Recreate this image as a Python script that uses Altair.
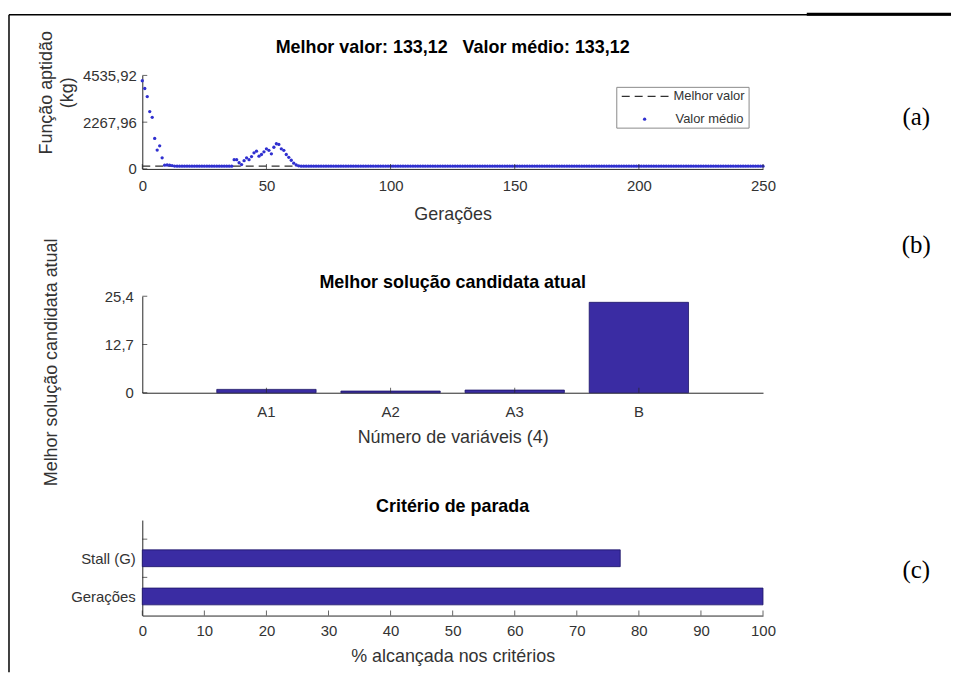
import altair as alt
import pandas as pd

# ---------------- data ----------------
geracoes = list(range(0, 251))
melhor_valor = [133.12] * 251
media_inicio = [4277, 3902, 3511, 2780, 2502, 1478, 912, 1122, 536, 180, 190, 185, 160, 140]  # gerações 0-13
media_pico = [450, 450, 300, 210, 400, 540, 450, 600, 780, 860, 620, 700, 830, 975, 900, 730,
              1050, 1220, 1190, 975, 900, 700, 560, 420, 280, 190, 150]                        # gerações 37-63
inicio_pico = 37
media_estavel = 133.12
ticks_x_a = [0, 50, 100, 150, 200, 250]
ticks_y_a = [0, 2267.96, 4535.92]
titulo_a = "Melhor valor: 133,12\u00a0\u00a0\u00a0Valor médio: 133,12"
legenda = ["Melhor valor", "Valor médio"]

variaveis = ["A1", "A2", "A3", "B"]
solucao = [0.88, 0.44, 0.70, 23.8]
ticks_y_b = [0, 12.7, 25.4]
titulo_b = "Melhor solução candidata atual"

criterios = ["Gerações", "Stall (G)"]
criterio_pos = [1, 2]
alcancado = [100, 77]
ticks_x_c = [0, 10, 20, 30, 40, 50, 60, 70, 80, 90, 100]
ticks_y_c = [1.5, 2.5]
titulo_c = "Critério de parada"

rotulos = ["(a)", "(b)", "(c)"]

valor_medio = []
for g in geracoes:
    if g < len(media_inicio):
        valor_medio.append(media_inicio[g])
    elif inicio_pico <= g < inicio_pico + len(media_pico):
        valor_medio.append(media_pico[g - inicio_pico])
    else:
        valor_medio.append(media_estavel)

# ---------------- style ----------------
FONT = "Liberation Sans"
SERIF = "Liberation Serif"
TXT = "#333333"
AX = "#262626"
BAR = "#3a2ca3"
BAR_EDGE = "#1c1466"
DOT = "#3030d0"
W = 624
H1, H2, H3 = 94, 97, 96
one = pd.DataFrame({"k": [0]})


def comma_expr(fmt):
    return f"datum.value == 0 ? '0' : replace(format(datum.value, '{fmt}'), '.', ',')"


def text_at(t, x, y, **kw):
    return alt.Chart(pd.DataFrame({"t": [t]})).mark_text(**kw).encode(
        text="t:N", x=alt.value(x), y=alt.value(y))


def rotulo(t, y):
    return text_at(t, 778, y, font=SERIF, fontSize=25, color="black",
                   align="center", baseline="middle")


def titulo(t, y):
    return text_at(t, W / 2, y, font=FONT, fontSize=18, fontWeight="bold", color="black",
                   align="center", baseline="middle")


def vticks(vals, field, scale, axis, h):
    return alt.Chart(pd.DataFrame({field: vals})).mark_tick(
        orient="vertical", size=5, thickness=1, color=AX).encode(
        x=alt.X(f"{field}:Q", scale=scale, axis=axis), y=alt.value(h - 2.5))


def hticks(vals, field, scale, axis):
    return alt.Chart(pd.DataFrame({field: vals})).mark_tick(
        orient="horizontal", size=5, thickness=1, color=AX).encode(
        y=alt.Y(f"{field}:Q", scale=scale, axis=axis), x=alt.value(2.5))


# ---------------- (a) ----------------
xa = alt.Scale(domain=[0, 250], nice=False, zero=False)
ya = alt.Scale(domain=[0, 4535.92], nice=False)
ax_xa = alt.Axis(values=ticks_x_a, format="d", title="Gerações",
                 labelPadding=10, titlePadding=12, labelFlush=False)
ax_ya = alt.Axis(values=ticks_y_a, labelExpr=comma_expr(".2f"),
                 title=["Função aptidão", "(kg)"], titleX=-87, titleY=17,
                 titleLineHeight=21, labelPadding=6)
df_a = pd.DataFrame({"gen": geracoes, "melhor": melhor_valor, "media": valor_medio})

line_a = alt.Chart(df_a).mark_line(color="#303030", strokeDash=[8, 5], strokeWidth=1.2).encode(
    x=alt.X("gen:Q", scale=xa, axis=ax_xa),
    y=alt.Y("melhor:Q", scale=ya, axis=ax_ya),
)
pts_a = alt.Chart(df_a).mark_circle(size=11, color=DOT, opacity=1).encode(
    x=alt.X("gen:Q", scale=xa, axis=ax_xa),
    y=alt.Y("media:Q", scale=ya, axis=ax_ya),
)

leg_box = alt.Chart(one).mark_rect(fill="white", stroke="#8a8a8a", strokeWidth=1).encode(
    x=alt.value(477), x2=alt.value(610), y=alt.value(12), y2=alt.value(53))
leg_line = alt.Chart(one).mark_rule(color="#303030", strokeDash=[8, 5], strokeWidth=1.2).encode(
    x=alt.value(482), x2=alt.value(532), y=alt.value(21))
leg_dot = alt.Chart(one).mark_circle(size=11, color=DOT, opacity=1).encode(
    x=alt.value(505), y=alt.value(44))
leg_t1 = text_at(legenda[0], 534, 21, font=FONT, fontSize=13, color=TXT, align="left", baseline="middle")
leg_t2 = text_at(legenda[1], 536, 44, font=FONT, fontSize=13, color=TXT, align="left", baseline="middle")

border_v = alt.Chart(one).mark_rule(color="black", strokeWidth=1.5).encode(
    x=alt.value(-134), y=alt.value(-61), y2=alt.value(600))
border_t1 = alt.Chart(one).mark_rule(color="black", strokeWidth=1.6).encode(
    x=alt.value(-134), x2=alt.value(813), y=alt.value(-61))
border_t2 = alt.Chart(one).mark_rule(color="black", strokeWidth=3).encode(
    x=alt.value(668), x2=alt.value(813), y=alt.value(-61.5))

chart_a = alt.layer(
    line_a, pts_a,
    vticks(ticks_x_a, "gen", xa, ax_xa, H1),
    hticks(ticks_y_a, "melhor", ya, ax_ya),
    leg_box, leg_line, leg_dot, leg_t1, leg_t2,
    titulo(titulo_a, -28), rotulo(rotulos[0], 42),
    border_v, border_t1, border_t2,
).properties(width=W, height=H1)

# ---------------- (b) ----------------
df_b = pd.DataFrame({"var": variaveis, "val": solucao})
xb = alt.Scale(domain=variaveis, paddingInner=0.2, paddingOuter=0.6)
yb = alt.Scale(domain=[0, 25.4], nice=False)
ax_xb = alt.Axis(title="Número de variáveis (4)", labelAngle=0, labelPadding=12, titlePadding=9)
ax_yb = alt.Axis(values=ticks_y_b, labelExpr=comma_expr(".1f"), title=titulo_b,
                 titleX=-82, titleY=66, labelPadding=9)

bars_b = alt.Chart(df_b).mark_bar(color=BAR, stroke=BAR_EDGE, strokeWidth=0.8).encode(
    x=alt.X("var:N", scale=xb, sort=variaveis, axis=ax_xb),
    y=alt.Y("val:Q", scale=yb, axis=ax_yb),
)
tk_xb = alt.Chart(df_b).mark_tick(orient="vertical", size=5, thickness=1, color=AX).encode(
    x=alt.X("var:N", scale=xb, sort=variaveis, axis=ax_xb), y=alt.value(H2 - 2.5))

chart_b = alt.layer(
    bars_b, tk_xb, hticks(ticks_y_b, "val", yb, ax_yb),
    titulo(titulo_b, -13), rotulo(rotulos[1], -51),
).properties(width=W, height=H2)

# ---------------- (c) ----------------
df_c = pd.DataFrame({"crit": criterios, "pos": criterio_pos, "pct": alcancado})
xc = alt.Scale(domain=[0, 100], nice=False)
yc = alt.Scale(domain=[0.5, 3], nice=False, zero=False)
label_c = f"datum.value == {criterio_pos[0]} ? '{criterios[0]}' : '{criterios[1]}'"
ax_xc = alt.Axis(values=ticks_x_c, title="% alcançada nos critérios", labelPadding=8,
                 titlePadding=9, labelFlush=False)
ax_yc = alt.Axis(values=criterio_pos, labelExpr=label_c, title=None, labelPadding=7)

bars_c = alt.Chart(df_c).transform_calculate(
    x0="0", y0="datum.pos - 0.22", y1="datum.pos + 0.22").mark_rect(
    color=BAR, stroke=BAR_EDGE, strokeWidth=0.8).encode(
    x=alt.X("pct:Q", scale=xc, axis=ax_xc),
    x2="x0:Q",
    y=alt.Y("y0:Q", scale=yc, axis=ax_yc),
    y2="y1:Q",
)

chart_c = alt.layer(
    bars_c,
    vticks(ticks_x_c, "pct", xc, ax_xc, H3),
    hticks(ticks_y_c, "y0", yc, ax_yc),
    titulo(titulo_c, -13), rotulo(rotulos[2], 50),
).properties(width=W, height=H3)

chart = alt.vconcat(chart_a, chart_b, chart_c, spacing=128, bounds="flush").properties(
    padding={"left": 0, "top": 3, "right": 0, "bottom": 0}
).configure_view(strokeWidth=0).configure_axis(
    labelFont=FONT, titleFont=FONT, labelColor=TXT, titleColor=TXT, domainColor=AX,
    domainWidth=1, ticks=False, grid=False, labelFontSize=15, titleFontSize=18,
    titleFontWeight="normal",
)

chart.save("out.html", embed_options={"renderer": "svg", "actions": False})
